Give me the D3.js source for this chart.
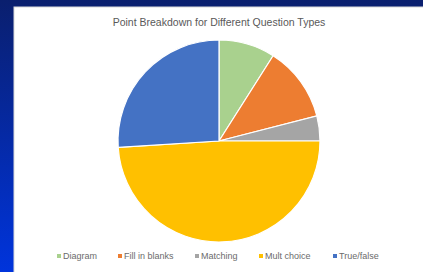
<!DOCTYPE html>
<html>
<head>
<meta charset="utf-8">
<script src="https://cdn.jsdelivr.net/npm/d3@7"></script>
<style>
  html, body { margin: 0; padding: 0; }
  body { width: 423px; height: 272px; overflow: hidden; }
</style>
</head>
<body>
<svg id="chart" width="423" height="272"></svg>
<script>
// data
const categories = ["Diagram", "Fill in blanks", "Matching", "Mult choice", "True/false"];
const points = [9, 12, 4, 49, 26];
const colors = ["#A9D18E", "#ED7D31", "#A5A5A5", "#FFC000", "#4472C4"];
const title = "Point Breakdown for Different Question Types";

var svg = d3.select("#chart");

// slide background
var defs = svg.append("defs");
var grad = defs.append("linearGradient")
    .attr("id", "bg")
    .attr("x1", 0).attr("y1", 0).attr("x2", 0).attr("y2", 1);
grad.append("stop").attr("offset", "0%").attr("stop-color", "#0a1f6e");
grad.append("stop").attr("offset", "100%").attr("stop-color", "#0034dc");

svg.append("rect")
    .attr("width", 423).attr("height", 272)
    .attr("fill", "url(#bg)");

// chart panel
svg.append("rect")
    .attr("x", 14).attr("y", 7)
    .attr("width", 420).attr("height", 270)
    .attr("fill", "#ffffff")
    .attr("stroke", "#d9d9d9")
    .attr("stroke-width", 1);

svg.append("text")
    .attr("x", 219)
    .attr("y", 26)
    .attr("text-anchor", "middle")
    .style("font-family", "Liberation Sans, Arial, sans-serif")
    .style("font-size", "10.5px")
    .style("fill", "#595959")
    .text(title);

var color = d3.scaleOrdinal().domain(categories).range(colors);

var pie = d3.pie()
    .sort(null)
    .value(function(d, i) { return points[i]; });

var arc = d3.arc().innerRadius(0).outerRadius(101);

var g = svg.append("g")
    .attr("transform", "translate(219,141)");

g.selectAll("path")
    .data(pie(categories))
    .enter()
    .append("path")
    .attr("d", arc)
    .attr("fill", function(d) { return color(d.data); })
    .attr("stroke", "#ffffff")
    .attr("stroke-width", 1.2);

// legend
var legendOffsets = [0, 61, 138, 202, 276];
var legend = svg.append("g").attr("transform", "translate(0,256)");

var item = legend.selectAll("g")
    .data(categories)
    .enter()
    .append("g")
    .attr("transform", function(d, i) { return "translate(" + (57 + legendOffsets[i]) + ",0)"; });

item.append("rect")
    .attr("x", 0).attr("y", -2)
    .attr("width", 4).attr("height", 4)
    .attr("fill", function(d) { return color(d); });

item.append("text")
    .attr("x", 6)
    .attr("y", 3)
    .style("font-family", "Liberation Sans, Arial, sans-serif")
    .style("font-size", "9px")
    .style("fill", "#6b6b6b")
    .text(function(d) { return d; });
</script>
</body>
</html>
